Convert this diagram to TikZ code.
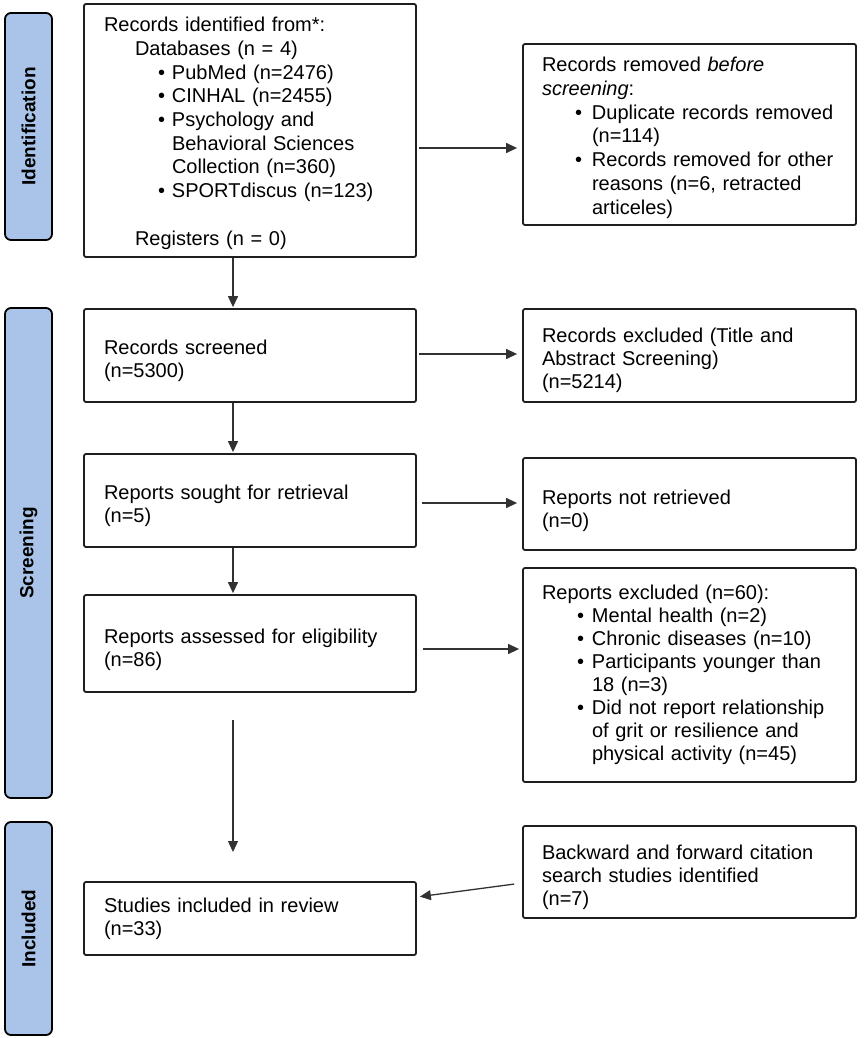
\documentclass[tikz,border=0pt]{standalone}
\usepackage{fontspec}
\setmainfont{Liberation Sans}
\usetikzlibrary{arrows.meta}
\definecolor{barblue}{RGB}{169,196,232}
\definecolor{edge}{RGB}{30,30,30}
\definecolor{arrowgray}{RGB}{50,50,50}
\newcommand\bul[1]{\makebox[#1][l]{•}}
\newcommand\topstrut[1]{\rule{0pt}{#1}}
\begin{document}
\begin{tikzpicture}[x=1pt,y=-1pt,
  box/.style={draw=edge, line width=1.8pt, rounded corners=2pt, inner sep=0pt,
    align=left, font=\fontsize{20}{23}\selectfont},
  widebox/.style={font=\fontsize{20}{23.7}\selectfont},
  mainbox/.style={box, minimum width=332pt, text width=292pt},
  sidebox/.style={box, minimum width=333pt, text width=295pt},
  bar/.style={draw=black, line width=1.8pt, fill=barblue, rounded corners=6pt,
    rotate=90, inner sep=0pt, minimum height=47pt,
    font=\fontsize{19}{21}\selectfont\bfseries},
  arr/.style={draw=arrowgray, line width=1.3pt, -{Triangle[length=11pt,width=10pt]}}]
\useasboundingbox (0,0) rectangle (863,1038);
% phase bars
\node[bar, minimum width=227pt] (idbar) at (28.5,126.5) {Identification};
\node[bar, minimum width=490pt] (scbar) at (28.5,553) {Screening};
\node[bar, minimum width=213pt] (inbar) at (28.5,928.5) {Included};
% main column
\node[mainbox, widebox, minimum height=253pt] (b1) at (250,130.5) {\topstrut{20pt}Records identified from*:\\
\hspace*{31pt}Databases (n = 4)\\
\hspace*{54pt}\bul{14pt}PubMed (n=2476)\\
\hspace*{54pt}\bul{14pt}CINHAL (n=2455)\\
\hspace*{54pt}\bul{14pt}Psychology and\\
\hspace*{68pt}Behavioral Sciences\\
\hspace*{68pt}Collection (n=360)\\
\hspace*{54pt}\bul{14pt}SPORTdiscus (n=123)\\
\mbox{}\\
\hspace*{31pt}Registers (n = 0)};
\node[mainbox, minimum height=93pt] (b2) at (250,355.5) {\topstrut{25pt}Records screened\\(n=5300)};
\node[mainbox, minimum height=93pt] (b3) at (250,500.5) {\topstrut{25pt}Reports sought for retrieval\\(n=5)};
\node[mainbox, minimum height=97pt] (b4) at (250,643.5) {\topstrut{28pt}Reports assessed for eligibility\\(n=86)};
\node[mainbox, minimum height=73pt] (b5) at (250,918.5) {Studies included in review\\(n=33)};
% right column
\node[sidebox, widebox, minimum height=181pt] (r1) at (689.5,134.5) {\topstrut{21pt}Records removed \textit{before}\\
\textit{screening}:\\
\hspace*{33pt}\bul{17pt}Duplicate records removed\\
\hspace*{50pt}(n=114)\\
\hspace*{33pt}\bul{17pt}Records removed for other\\
\hspace*{50pt}reasons (n=6, retracted\\
\hspace*{50pt}articeles)};
\node[sidebox, minimum height=93pt] (r2) at (689.5,355.5) {\topstrut{25pt}Records excluded (Title and\\Abstract Screening)\\(n=5214)};
\node[sidebox, minimum height=92pt] (r3) at (689.5,504) {\topstrut{28pt}Reports not retrieved\\(n=0)};
\node[sidebox, minimum height=214pt] (r4) at (689.5,675) {Reports excluded (n=60):\\
\hspace*{35pt}\bul{15pt}Mental health (n=2)\\
\hspace*{35pt}\bul{15pt}Chronic diseases (n=10)\\
\hspace*{35pt}\bul{15pt}Participants younger than\\
\hspace*{50pt}18 (n=3)\\
\hspace*{35pt}\bul{15pt}Did not report relationship\\
\hspace*{50pt}of grit or resilience and\\
\hspace*{50pt}physical activity (n=45)};
\node[sidebox, minimum height=92pt] (r5) at (689.5,872) {\topstrut{25pt}Backward and forward citation\\search studies identified\\(n=7)};
% connectors
\coordinate (ax) at (233,0);
\coordinate (c5a) at (233,720);
\coordinate (c5b) at (233,852);
\draw[arr, shorten >=1pt] (b1.south -| ax) -- (b2.north -| ax);
\draw[arr, shorten >=1pt] (b2.south -| ax) -- (b3.north -| ax);
\draw[arr, shorten >=1pt] (b3.south -| ax) -- (b4.north -| ax);
\draw[arr] (c5a) -- (c5b);
\draw[arr, shorten <=2pt, shorten >=5pt] (b1.east |- 0,148) -- (r1.west |- 0,148);
\draw[arr, shorten <=2pt, shorten >=5pt] (b2.east |- 0,354) -- (r2.west |- 0,354);
\draw[arr, shorten <=5pt, shorten >=5pt] (b3.east |- 0,503) -- (r3.west |- 0,503);
\draw[arr, shorten <=6pt, shorten >=3pt] (b4.east |- 0,649) -- (r4.west |- 0,649);
\draw[arr, shorten <=8pt, shorten >=3pt] (r5.west |- 0,883) -- (b5.east |- 0,897);
\end{tikzpicture}
\end{document}
